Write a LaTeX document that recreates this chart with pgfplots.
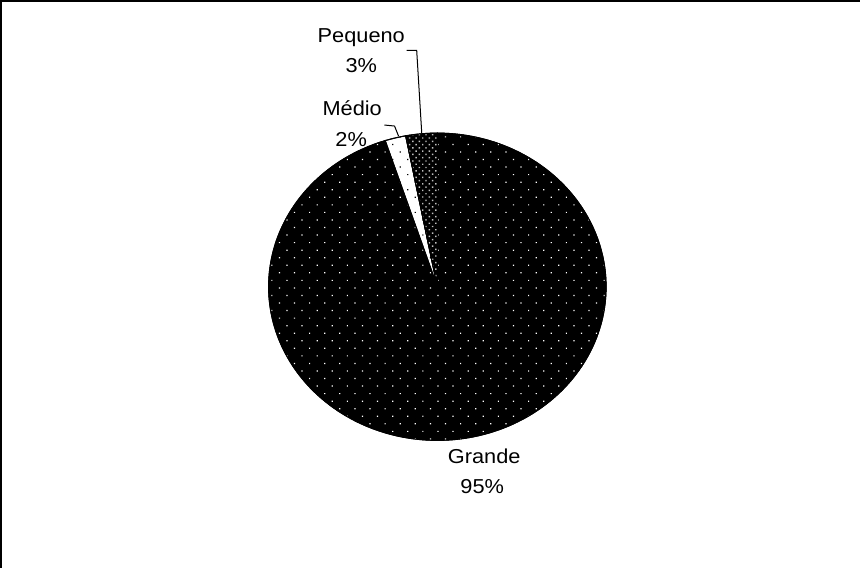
\documentclass[border=0pt]{standalone}
\usepackage{pgfplots}
\pgfplotsset{compat=1.18}
\usetikzlibrary{patterns.meta}
\usepackage{fontspec}
\setmainfont{Liberation Sans}[FakeStretch=1.08]
% pie data (percent)
\def\vGrande{95}
\def\vMedio{2}
\def\vPequeno{3}
\begin{document}
\begin{tikzpicture}
\pgfmathsetmacro\aA{90}
\pgfmathsetmacro\aB{\aA-3.6*\vGrande}
\pgfmathsetmacro\aC{\aB-3.6*\vMedio}
\pgfmathsetmacro\aD{\aC-3.6*\vPequeno}
\begin{axis}[width=430pt, height=284pt, scale only axis,
  xmin=0, xmax=860, ymin=0, ymax=568, y dir=reverse,
  hide axis, clip=true]
% Grande
\addplot[draw=black, line width=0.5pt, fill=black,
  postaction={pattern={Dots[distance=5.3pt, radius=0.42pt, angle=45]}, pattern color=white},
  domain=\aB:\aA, samples=240, variable=\t]
  ({440.5+167.5*cos(\t)}, {289.5-152.5*sin(\t)}) -- (axis cs:440.5,289.5) -- cycle;
% Medio
\addplot[draw=black, line width=0.5pt, fill=white,
  postaction={pattern={Dots[distance=5.3pt, radius=0.42pt, angle=45]}, pattern color=black},
  domain=\aC:\aB, samples=10, variable=\t]
  ({440.5+167.5*cos(\t)}, {289.5-152.5*sin(\t)}) -- (axis cs:440.5,289.5) -- cycle;
% Pequeno
\addplot[draw=black, line width=0.5pt, fill=black,
  postaction={pattern={Dots[distance=2.3pt, radius=0.5pt, angle=45]}, pattern color=white!75!black},
  domain=\aD:\aC, samples=10, variable=\t]
  ({440.5+167.5*cos(\t)}, {289.5-152.5*sin(\t)}) -- (axis cs:440.5,289.5) -- cycle;
% leader lines
\addplot[black, line width=0.5pt] coordinates {(410,55) (420,55) (425,137)};
\addplot[black, line width=0.5pt] coordinates {(388,129) (398,130) (402,140)};
% frame
\draw[line width=1.1pt] (axis cs:7.5,700) -- (axis cs:7.5,6) -- (axis cs:1000,6);
% labels
\node[anchor=base, font=\fontsize{10}{12}\selectfont] at (axis cs:365,47) {Pequeno};
\node[anchor=base, font=\fontsize{10}{12}\selectfont] at (axis cs:365,77) {3\%};
\node[anchor=base, font=\fontsize{10}{12}\selectfont] at (axis cs:356,120) {Médio};
\node[anchor=base, font=\fontsize{10}{12}\selectfont] at (axis cs:355,150) {2\%};
\node[anchor=base, font=\fontsize{10}{12}\selectfont] at (axis cs:487,465) {Grande};
\node[anchor=base, font=\fontsize{10}{12}\selectfont] at (axis cs:485,495) {95\%};
\end{axis}
\end{tikzpicture}
\end{document}
